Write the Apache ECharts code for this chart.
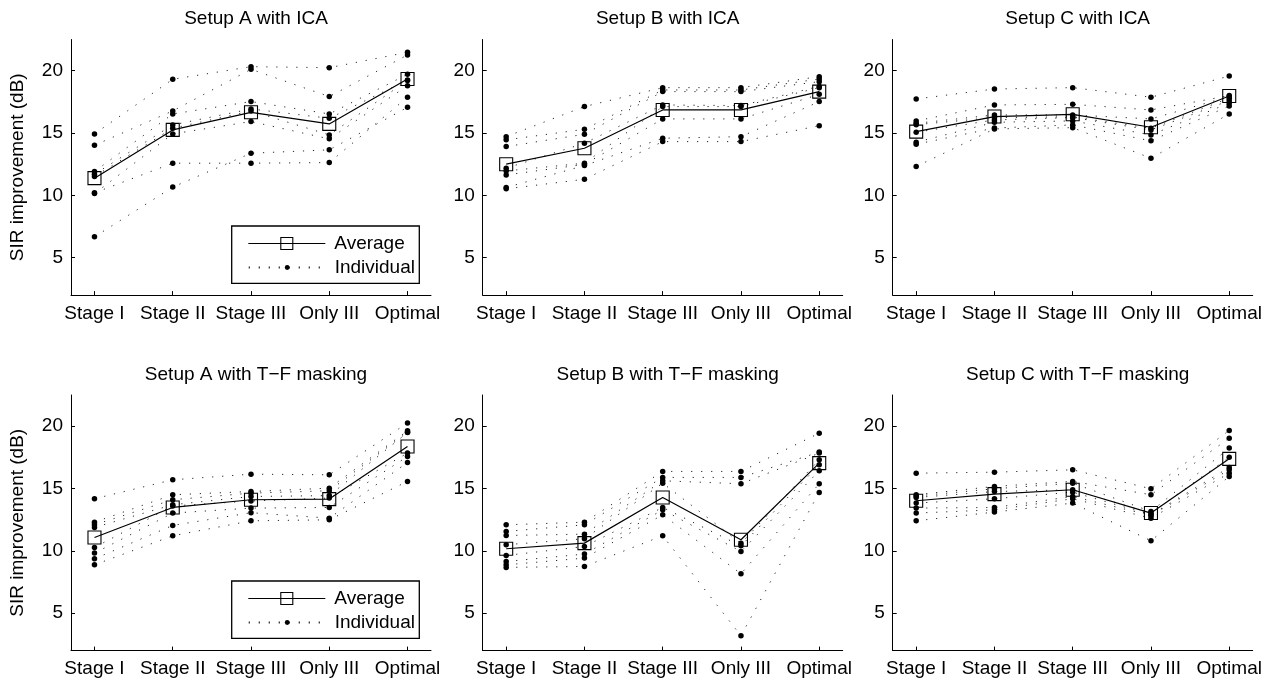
<!DOCTYPE html>
<html>
<head>
<meta charset="utf-8">
<script src="https://cdn.jsdelivr.net/npm/echarts@6/dist/echarts.min.js"></script>
<style>
html,body{margin:0;padding:0;background:#fff;}
#main{width:1271px;height:681px;}
</style>
</head>
<body>
<div id="main"></div>
<script>
// ---------------- DATA ----------------
const categories = ['Stage I', 'Stage II', 'Stage III', 'Only III', 'Optimal'];
const panelTitles = ['Setup A with ICA', 'Setup B with ICA', 'Setup C with ICA',
  'Setup A with T\u2212F masking', 'Setup B with T\u2212F masking', 'Setup C with T\u2212F masking'];
const yTickValues = [5, 10, 15, 20];
const yAxisTitle = 'SIR improvement (dB)';
const legendNames = ['Average', 'Individual'];

// averages (square markers)
const avgA_ICA = [11.38, 15.25, 16.66, 15.73, 19.33];
const avgB_ICA = [12.50, 13.78, 16.85, 16.85, 18.32];
const avgC_ICA = [15.11, 16.32, 16.50, 15.46, 17.97];
const avgA_TF = [11.07, 13.48, 14.10, 14.15, 18.37];
const avgB_TF = [10.17, 10.62, 14.28, 10.89, 17.04];
const avgC_TF = [14.02, 14.55, 14.90, 13.03, 17.38];

// individuals (one row per individual, columns = categories)
const indA_ICA = [
  [14.93, 19.31, 20.32, 20.24, 21.47],
  [14.02, 16.77, 20.11, 17.92, 21.26],
  [11.91, 16.53, 17.52, 16.53, 19.71],
  [11.70, 15.65, 16.93, 16.18, 19.25],
  [11.51, 15.38, 16.77, 14.85, 19.22],
  [10.14, 14.93, 15.92, 14.53, 18.80],
  [10.20, 12.58, 12.58, 12.63, 17.87],
  [6.67, 10.66, 13.38, 13.65, 17.06]
];
const indB_ICA = [
  [14.71, 17.12, 18.64, 18.64, 19.52],
  [14.45, 15.30, 18.45, 18.45, 19.33],
  [13.91, 14.90, 18.32, 18.32, 19.12],
  [12.18, 14.18, 17.25, 17.20, 18.74],
  [11.96, 12.58, 17.12, 17.12, 18.64],
  [11.64, 12.48, 16.13, 16.13, 18.10],
  [10.63, 12.39, 14.58, 14.71, 17.52],
  [10.52, 11.29, 14.31, 14.31, 15.59]
];
const indC_ICA = [
  [17.73, 18.53, 18.64, 17.87, 19.57],
  [15.97, 17.25, 17.30, 16.85, 18.00],
  [15.78, 16.45, 16.45, 16.13, 17.92],
  [15.67, 16.24, 16.30, 15.38, 17.79],
  [15.06, 16.05, 16.24, 15.25, 17.60],
  [14.26, 15.86, 15.97, 14.85, 17.40],
  [14.10, 15.40, 15.65, 14.37, 17.17],
  [12.31, 15.33, 15.43, 12.98, 16.53]
];
const indA_TF = [
  [14.18, 15.70, 16.15, 16.10, 20.25],
  [12.30, 14.50, 14.76, 15.03, 19.63],
  [12.09, 14.10, 14.63, 14.82, 19.52],
  [11.88, 13.70, 14.36, 14.43, 19.49],
  [10.27, 13.60, 14.00, 14.23, 17.84],
  [9.82, 13.03, 13.43, 13.48, 17.57],
  [9.36, 12.04, 13.06, 12.62, 17.09],
  [8.88, 11.21, 12.41, 12.49, 15.57]
];
const indB_TF = [
  [12.09, 12.30, 16.37, 16.37, 19.44],
  [11.56, 12.09, 15.89, 15.89, 17.92],
  [11.23, 11.34, 15.62, 15.38, 17.84],
  [10.49, 10.97, 15.43, 10.60, 17.30],
  [9.63, 10.35, 13.48, 10.40, 16.90],
  [9.15, 9.74, 13.29, 9.95, 16.42],
  [8.88, 9.42, 12.89, 8.16, 15.38],
  [8.67, 8.75, 11.21, 3.19, 14.68]
];
const indC_TF = [
  [16.23, 16.31, 16.50, 14.98, 19.66],
  [14.50, 15.17, 15.57, 14.50, 19.04],
  [14.40, 14.98, 15.43, 13.16, 18.24],
  [14.28, 14.76, 14.90, 13.03, 17.50],
  [13.83, 14.18, 14.71, 12.90, 16.69],
  [13.43, 13.48, 14.36, 12.84, 16.50],
  [13.03, 13.29, 14.18, 12.62, 16.23],
  [12.41, 13.11, 13.83, 10.81, 15.97]
];

const averages = [avgA_ICA, avgB_ICA, avgC_ICA, avgA_TF, avgB_TF, avgC_TF];
const individuals = [indA_ICA, indB_ICA, indC_ICA, indA_TF, indB_TF, indC_TF];

// ---------------- LAYOUT ----------------
const FONT = "'Liberation Sans', Arial, Helvetica, sans-serif";
const FS = 19;
const colLeft = [71, 482.7, 892.7];
const gridW = 360;
const rowTop = [39.5, 395];
const gridH = 255.6;
const xPos = [1, 2, 3, 4, 5];

const grids = [], xAxes = [], yAxes = [], titles = [], series = [];
for (let p = 0; p < 6; p++) {
  const r = Math.floor(p / 3), c = p % 3;
  grids.push({ left: colLeft[c], top: rowTop[r], width: gridW, height: gridH, containLabel: false });
  xAxes.push({
    type: 'value', gridIndex: p, min: 0.7, max: 5.3,
    axisLine: { show: true, lineStyle: { color: '#000', width: 1 } },
    axisTick: { show: true, inside: true, length: 4, customValues: xPos, lineStyle: { color: '#000' } },
    axisLabel: { show: true, customValues: xPos, margin: 9, color: '#000', fontSize: FS, fontFamily: FONT,
      formatter: v => categories[Math.round(v) - 1] || '' },
    splitLine: { show: false }
  });
  yAxes.push({
    type: 'value', gridIndex: p, min: 2, max: 22.5,
    name: c === 0 ? yAxisTitle : '', nameLocation: 'middle', nameGap: 44,
    nameTextStyle: { color: '#000', fontSize: FS, fontFamily: FONT },
    axisLine: { show: true, lineStyle: { color: '#000', width: 1 } },
    axisTick: { show: true, inside: true, length: 4, customValues: yTickValues, lineStyle: { color: '#000' } },
    axisLabel: { show: true, customValues: yTickValues, margin: 8, color: '#000', fontSize: FS, fontFamily: FONT },
    splitLine: { show: false }
  });
  titles.push({
    text: panelTitles[p], left: colLeft[c] + gridW / 2, textAlign: 'center',
    top: r === 0 ? 4 : 360,
    textStyle: { color: '#000', fontSize: FS, fontWeight: 'normal', fontFamily: FONT }
  });
  series.push({
    name: legendNames[0], type: 'line', xAxisIndex: p, yAxisIndex: p,
    data: averages[p].map((v, i) => [xPos[i], v]),
    symbol: 'rect', symbolSize: 13,
    itemStyle: { color: 'rgba(255,255,255,0)', borderColor: '#000', borderWidth: 1.1 },
    lineStyle: { color: '#000', width: 1.2 },
    z: 3, silent: true
  });
  individuals[p].forEach(row => {
    series.push({
      name: legendNames[1], type: 'line', xAxisIndex: p, yAxisIndex: p,
      data: row.map((v, i) => [xPos[i], v]),
      symbol: 'circle', symbolSize: 5.5,
      itemStyle: { color: '#000' },
      lineStyle: { color: '#000', width: 1, type: [1.2, 8.8], opacity: 0.85 },
      z: 2, silent: true
    });
  });
}

function legendPair(top) {
  return [
    { data: [legendNames[0]], left: 247.7, top: top, orient: 'vertical', padding: 0, itemGap: 0,
      itemWidth: 77, itemHeight: 15, selectedMode: false,
      itemStyle: { borderWidth: 1.1, borderColor: '#000' }, lineStyle: { width: 1.2, color: '#000' },
      textStyle: { color: '#000', fontSize: FS, fontFamily: FONT, padding: [0, 0, 0, 4] } },
    { data: [legendNames[1]], left: 247.7, top: top + 24, orient: 'vertical', padding: 0, itemGap: 0,
      itemWidth: 77, itemHeight: 6, selectedMode: false,
      textStyle: { color: '#000', fontSize: FS, fontFamily: FONT, padding: [0, 0, 0, 4] } }
  ];
}
const legends = legendPair(234).concat(legendPair(589));

const boxes = [226, 581].map(y => ({
  type: 'rect', z: 3,
  shape: { x: 231.7, y: y, width: 187.6, height: 57.3 },
  style: { fill: '#fff', stroke: '#000', lineWidth: 1.3 }
}));

const chart = echarts.init(document.getElementById('main'), null, { renderer: 'canvas' });
chart.setOption({
  animation: false,
  backgroundColor: '#fff',
  title: titles,
  grid: grids,
  xAxis: xAxes,
  yAxis: yAxes,
  legend: legends,
  graphic: boxes,
  series: series
});
</script>
</body>
</html>
